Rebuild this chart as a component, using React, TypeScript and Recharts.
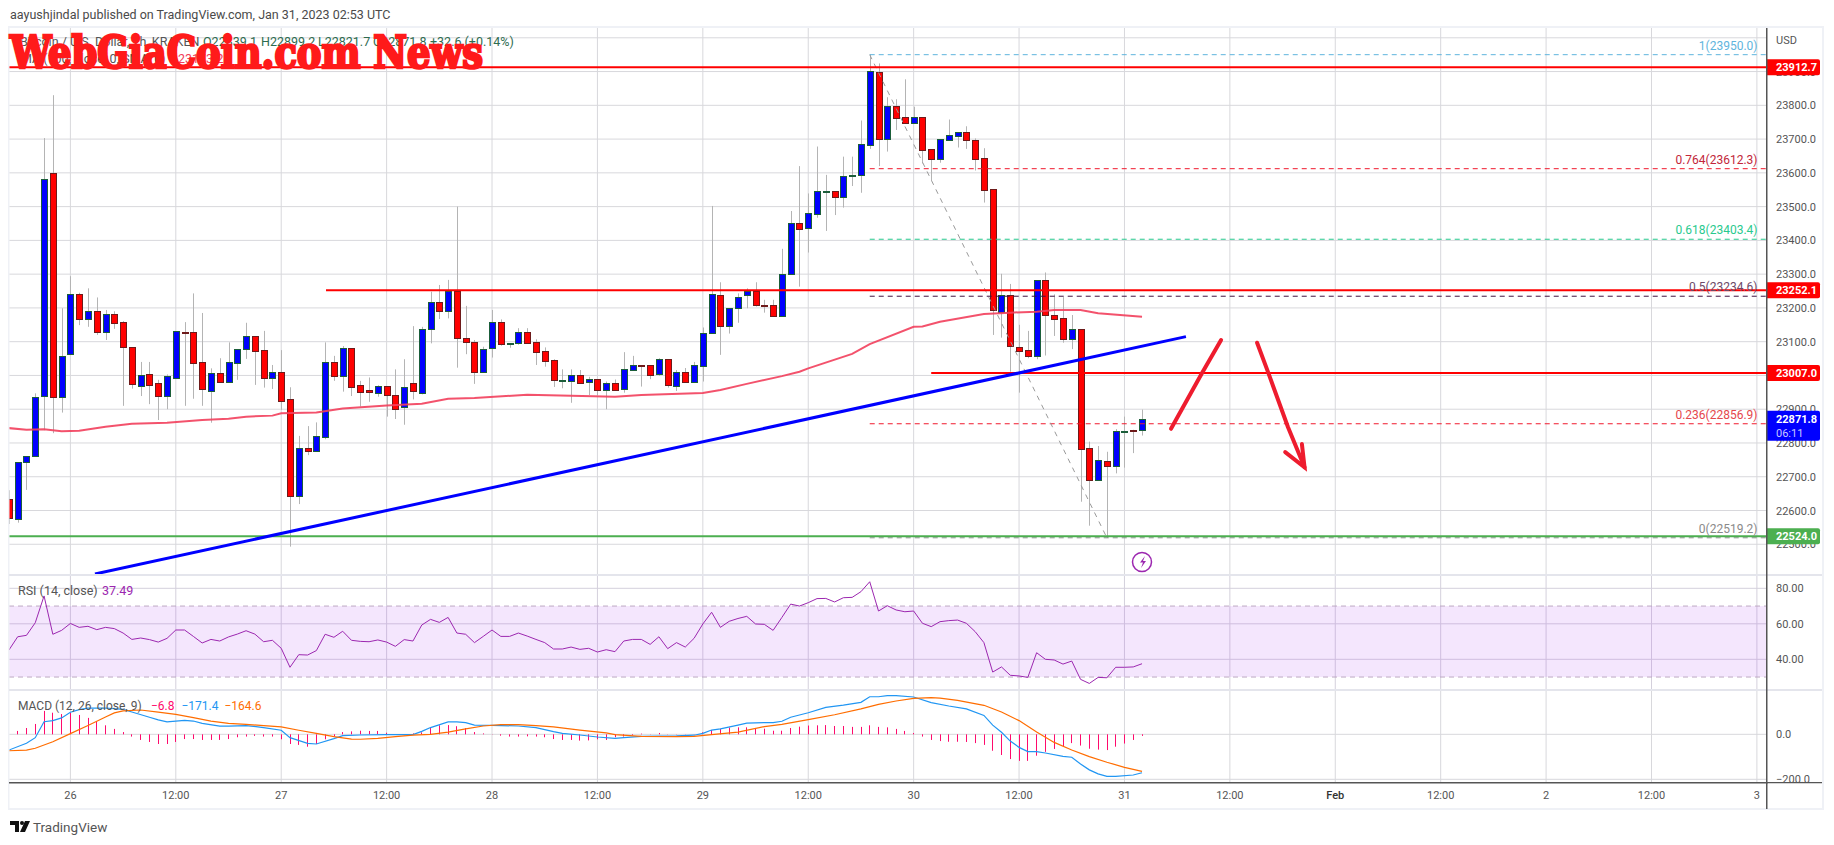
import { Bar, CartesianGrid, ComposedChart, Line, ReferenceArea, XAxis, YAxis } from 'recharts';

const FONT = 'Roboto, sans-serif';

// hourly candles, hour 0 = Jan 26 00:00
const firstHour = -7;
const opens = [22634,22574,22743,22761,22940,23599,22937,23063,23240,23166,23190,23130,23181,23157,23083,22970,23003,22977,22940,22993,23128,23128,23039,22955,23006,22982,23038,23077,23116,23074,22993,23009,22929,22644,22784,22777,22819,23039,22999,23080,22971,22956,22949,22968,22941,22908,22977,22949,23137,23217,23190,23251,23110,23098,23011,23080,23157,23094,23095,23128,23098,23073,23045,22985,22985,23000,22980,22988,22958,22977,22959,23017,23030,23030,23005,23048,22970,23009,22982,23029,23125,23237,23147,23199,23239,23250,23210,23208,23177,23300,23451,23438,23479,23545,23545,23529,23592,23595,23683,23898,23701,23797,23764,23749,23764,23670,23642,23698,23710,23720,23697,23643,23551,23189,23237,23083,23074,23059,23282,23178,23169,23109,23137,22784,22689,22746,22731,22835,22839,22839];
const highs = [22660,22743,22761,22947,23703,23830,23199,23294,23245,23258,23231,23194,23190,23161,23083,23040,23040,22987,23003,23131,23158,23243,23185,23021,23051,23098,23077,23156,23116,23132,23031,23075,22965,22821,22850,22861,23098,23058,23087,23080,22984,22994,22971,22968,23018,23048,23146,23144,23248,23268,23283,23500,23206,23105,23085,23194,23166,23095,23140,23140,23107,23083,23048,23018,23018,23016,22996,22988,22982,22988,23069,23058,23030,23030,23051,23048,23016,23022,23040,23142,23502,23276,23199,23243,23258,23276,23224,23224,23375,23487,23620,23539,23678,23594,23545,23648,23648,23755,23950,23924,23824,23818,23877,23796,23764,23670,23699,23758,23720,23738,23702,23673,23551,23301,23271,23150,23132,23282,23305,23240,23232,23179,23137,22804,22791,22774,22841,22878,22839,22899];
const lows = [22560,22564,22661,22761,22838,22829,22890,23063,23149,23144,23120,23105,23138,22910,22961,22939,22915,22868,22900,22993,22910,22931,22910,22860,22982,22982,22987,23049,22972,22964,22960,22898,22493,22619,22764,22777,22811,22984,22952,22939,22908,22922,22937,22878,22871,22854,22929,22944,23095,23167,23169,23023,23063,22975,23011,23053,23088,23082,23091,23097,23031,23026,22966,22962,22919,22979,22942,22942,22900,22958,22949,23017,22967,22989,22999,22964,22954,22982,22979,22982,23125,23061,23124,23156,23199,23204,23186,23175,23177,23300,23263,23364,23467,23428,23475,23497,23561,23541,23671,23620,23663,23727,23749,23749,23628,23577,23630,23698,23675,23671,23607,23512,23120,23112,23011,22949,23051,23048,23059,23117,23097,23078,22626,22555,22689,22519,22710,22727,22770,22822];
const closes = [22579,22743,22761,22935,23582,22937,23057,23240,23166,23190,23130,23181,23156,23083,22976,23000,22973,22940,22997,23131,23125,23038,22959,23006,22982,23039,23077,23116,23073,22993,23009,22925,22644,22784,22777,22820,23039,22999,23080,22967,22952,22952,22968,22943,22902,22967,22955,23137,23217,23190,23251,23110,23098,23009,23077,23157,23094,23095,23128,23097,23070,23044,22986,22986,23000,22979,22988,22958,22977,22958,23018,23030,23029,23002,23048,22973,23009,22982,23030,23125,23240,23147,23199,23231,23250,23210,23208,23175,23300,23451,23435,23480,23545,23547,23529,23590,23593,23684,23901,23701,23797,23763,23749,23764,23669,23642,23699,23711,23720,23698,23642,23549,23193,23237,23088,23073,23059,23282,23178,23168,23109,23137,22783,22689,22749,22733,22835,22836,22838,22872];

// moving average, read at the hours where it could be read
const maHours = [-7,-5,-3,-1,1,4,7,11,15,18,20,23,24,28,31,36,40,43,46,52,57,62,65,72,74,77,81,83,84,89,91,96,97,99,104,107,110,112,115,117,122];
const maValues = [22844,22839,22841,22835,22836,22848,22857,22860,22868,22872,22878,22881,22888,22890,22902,22911,22916,22931,22933,22943,22940,22937,22942,22948,22957,22975,22998,23011,23021,23064,23093,23144,23145,23159,23182,23186,23189,23194,23194,23184,23174];

const priceTicks = [22500,22600,22700,22800,22900,23000,23100,23200,23300,23400,23500,23600,23700,23800,23900];
const priceGrid = [...priceTicks, 24000];
const priceTags = [23912.7, 23252.1, 23007.0, 22871.8, 22524.0];
const priceTagColors = ['#ff0000', '#ff0000', '#ff0000', '#0000ff', '#4caf50'];

const fibRatios = ['1', '0.764', '0.618', '0.5', '0.236', '0'];
const fibPrices = [23950.0, 23612.3, 23403.4, 23234.6, 22856.9, 22519.2];
const fibLineColors = ['#5fb4dd', '#f0182c', '#26c98e', '#3f1240', '#f0182c', '#8a8a8a'];
const fibTextColors = ['#5fb4dd', '#c2263a', '#29c98e', '#6d4a68', '#e5464c', '#8a8a8a'];

const rsiValues = [45.2,52.7,53.5,60.6,75.7,54.1,56.3,60.2,58,58.6,56.7,58,57.3,54.8,51.2,52,51.1,49.7,51.8,56.5,56.5,52.9,49.2,51.2,50.3,52.6,54.2,56.1,54.2,49.9,50.7,46.2,35.5,42.6,42.4,44.9,54.1,52.4,55.8,50.7,50.1,49.9,50.9,49.7,47.3,51.1,50.3,59.3,62.5,60.8,63.6,54.8,54.1,49.4,52.9,56.5,52.9,52.9,54.8,53.1,51.2,49.4,45.8,45.8,46.9,45.6,46.2,44.1,45.4,44.3,50.3,51.2,51.2,48.4,52.7,46,49.4,46.9,51.8,59.9,66.5,58,61.4,63,64.2,59.9,59.7,56.3,63.6,71.1,70,71.9,74.2,74.3,72.3,74.7,74.9,78.1,83.7,67.2,70.2,67.8,66.8,67.2,60.3,58.4,61.2,61.8,62.1,60.3,55.6,49.4,32.8,35.7,31,30.6,29.8,43.7,40,39.6,37.3,39,28.7,26.4,29.8,29.6,35.5,35.5,35.7,37.5];

const histValues = [0,15,28,46,104,96,90,96,86,73,58,40,24,10,-10,-25,-34,-43,-43,-34,-21,-21,-25,-25,-25,-21,-13,-10,-7,-10,-10,-22,-43,-47,-55,-43,-22,-10,10,13,16,15,15,7,-3,-4,4,9,31,40,41,36,28,10,4,1,-6,-10,-10,-9,-10,-13,-21,-25,-25,-28,-27,-22,-25,-13,-10,-4,3,1,6,1,1,1,1,9,19,24,30,31,31,28,25,16,16,28,34,39,40,41,37,37,33,33,40,33,31,24,15,6,-10,-25,-30,-33,-33,-34,-39,-47,-73,-92,-110,-118,-118,-95,-78,-65,-52,-39,-50,-64,-68,-70,-55,-41,-25,-7];

const macdHours = [-7,-5,-4,-3,-2,-1,0,1,2,4,6,7,9,10,11,12,13,14,15,17,18,20,22,24,25,27,28,30,31,33,36,39,40,41,43,44,45,46,48,51,53,55,56,58,60,62,63,65,69,71,72,73,74,76,77,79,80,81,82,84,86,88,90,91,92,93,94,96,98,100,102,104,105,106,107,108,109,110,111,113,114,115,116,117,118,119,121,122];
const macdValues = [-70,-40,-15,56,61,73,98,110,116,117,111,99,76,64,55,59,62,59,49,36,36,39,30,18,-15,-40,-43,-19,-6,-3,-1,-1,13,30,55,55,52,41,40,37,30,12,4,-3,-12,-18,-15,-9,-7,-4,4,19,24,41,50,52,52,58,76,96,120,130,142,167,167,172,172,166,141,126,113,84,41,9,-30,-58,-77,-77,-83,-98,-102,-132,-158,-176,-187,-187,-181,-171];
const signalHours = [-7,-5,-4,-2,0,2,4,5,6,8,10,12,14,16,18,20,22,24,26,28,30,32,33,35,37,39,41,43,45,47,49,51,53,55,58,61,62,65,69,71,73,76,79,81,84,87,90,92,94,96,98,99,101,104,106,108,110,112,114,116,118,120,122];
const signalValues = [-73,-70,-62,-33,3,39,77,95,104,108,99,89,74,59,49,44,39,33,18,4,-10,-21,-22,-18,-10,-4,0,10,24,37,43,43,39,33,19,6,-1,-9,-10,-9,-1,10,34,44,65,87,113,133,148,160,163,161,151,129,99,61,10,-36,-70,-99,-124,-147,-165];

const rsiTicks = [40, 60, 80];
const macdTicks = [-200, 0];

const hourTicks = [0,12,24,36,48,60,72,84,96,108,120,132,144,156,168,180,192];
const hourLabels = ['26','12:00','27','12:00','28','12:00','29','12:00','30','12:00','31','12:00','Feb','12:00','2','12:00','3'];

// drawn levels and trend lines, as [hour, price]
const xDomain = [-6.99, 193.15];
const levelLines = [
  { from: -6.99, price: 23912.7, color: '#ff0000' },
  { from: 29.1, price: 23252.1, color: '#ff0000' },
  { from: 98, price: 23007.0, color: '#ff0000' },
  { from: -6.99, price: 22524.0, color: '#4caf50' },
];
const trendHours = [2.8, 127];
const trendPrices = [22412, 23115];
const fibDiagHours = [91, 118];
const fibDiagPrices = [23950, 22519.2];
const arrowUpHours = [125.3, 128.8, 131];
const arrowUpPrices = [22842, 23006, 23105];
const arrowDownHours = [135.1, 136.4, 138.6, 140.5];
const arrowDownPrices = [23097, 23006, 22848, 22728];
const arrowHeadHours = [138.3, 140.5, 140.2];
const arrowHeadPrices = [22773, 22728, 22797];

const toRows = (hours: number[], values: number[]) => hours.map((h, i) => ({ h, p: values[i] }));

const candleRows = opens.map((open, i) => ({
  h: firstHour + i,
  open,
  high: highs[i],
  low: lows[i],
  close: closes[i],
  range: [lows[i], highs[i]],
}));
const rsiRows = rsiValues.map((rsi, i) => ({ h: firstHour + i, rsi }));
const histRows = histValues.map((hist, i) => ({ h: firstHour + i, hist }));

const Candle = (props: any) => {
  const { x, y, width, height, payload } = props;
  const unit = height / (payload.high - payload.low);
  const yOf = (v: number) => y + (payload.high - v) * unit;
  const cx = Math.round(x + width / 2);
  const up = payload.close >= payload.open;
  const top = Math.round(yOf(Math.max(payload.open, payload.close)));
  const bottom = Math.round(yOf(Math.min(payload.open, payload.close)));
  const bodyH = Math.max(bottom - top, 1);
  return (
    <g>
      <line x1={cx + 0.5} x2={cx + 0.5} y1={y} y2={y + height} stroke="#b4b4b4" strokeWidth={1} />
      <rect
        x={cx - 2.5}
        y={top + 0.5}
        width={6}
        height={bodyH}
        fill={up ? '#0000ff' : '#ff0000'}
        stroke={up ? '#1b5e3a' : '#6e1a1a'}
        strokeWidth={1}
      />
    </g>
  );
};

// negative bars come in with a negative height
const HistBar = (props: any) => {
  const { x, y, width, height } = props;
  return (
    <rect
      x={Math.round(x + width / 2)}
      y={Math.min(y, y + height)}
      width={1}
      height={Math.abs(height)}
      fill="#ff0a6c"
    />
  );
};

const PriceTick = (props: any) => {
  const { y, payload } = props;
  const tagIndex = priceTags.indexOf(payload.value);
  if (tagIndex < 0) {
    return (
      <text x={1776} y={y + 4} fontSize={11} fontFamily={FONT} fill="#555">
        {payload.value.toFixed(1)}
      </text>
    );
  }
  const isLast = payload.value === 22871.8;
  return (
    <g>
      <path
        d={`M1767 ${y - 8}h51a2 2 0 0 1 2 2v${isLast ? 26 : 12}a2 2 0 0 1 -2 2h-51z`}
        fill={priceTagColors[tagIndex]}
      />
      <text x={1776} y={y + 4} fontSize={11} fontWeight={700} fontFamily={FONT} fill="#fff">
        {payload.value.toFixed(1)}
      </text>
      {isLast && (
        <text x={1776} y={y + 18} fontSize={11} fontFamily={FONT} fill="#c8c8ff">
          06:11
        </text>
      )}
    </g>
  );
};

const PlainTick = (props: any) => {
  const { y, payload, digits } = props;
  const text = payload.value < 0 ? `\u2212${Math.abs(payload.value).toFixed(digits)}` : payload.value.toFixed(digits);
  return (
    <text x={1776} y={y + 4} fontSize={11} fontFamily={FONT} fill="#555">
      {text}
    </text>
  );
};

const TimeTick = (props: any) => {
  const { x, payload } = props;
  const label = hourLabels[hourTicks.indexOf(payload.value)];
  return (
    <text
      x={x}
      y={799}
      transform="translate(0 -690)"
      textAnchor="middle"
      fontSize={11}
      fontFamily={FONT}
      fontWeight={label === 'Feb' ? 500 : 400}
      fill={label === 'Feb' ? '#333' : '#555'}
    >
      {label}
    </text>
  );
};

const fibLabel = (i: number) => (props: any) => {
  if (props.index !== 1) return <g key={props.index} />;
  return (
    <text
      key={props.index}
      x={1757.5}
      y={props.y - 5}
      textAnchor="end"
      fontSize={12}
      fontFamily={FONT}
      fill={fibTextColors[i]}
    >
      {`${fibRatios[i]}(${fibPrices[i].toFixed(1)})`}
    </text>
  );
};

const lineProps = { dataKey: 'p', dot: false, activeDot: false, isAnimationActive: false, legendType: 'none' as const };
const gridColor = '#d8d8dc';

export default function App() {
  return (
    <div style={{ position: 'absolute', left: 0, top: 0, width: 1834, height: 845, background: '#fff', overflow: 'hidden' }}>
      <div style={{ position: 'absolute', left: 0, top: 28 }}>
        <ComposedChart width={1834} height={547} data={candleRows} margin={{ top: 0, right: 0, bottom: 0, left: 9 }}>
          <CartesianGrid stroke={gridColor} horizontalValues={priceGrid} verticalValues={hourTicks} />
          <XAxis dataKey="h" type="number" domain={xDomain} allowDataOverflow hide />
          <YAxis
            orientation="right"
            width={67}
            domain={[22409, 24029]}
            allowDataOverflow
            ticks={[...priceTicks, ...priceTags]}
            interval={0}
            tick={<PriceTick />}
            tickLine={false}
            axisLine={false}
          />
          <Line {...lineProps} data={toRows(maHours, maValues)} stroke="#f23f5c" strokeWidth={2} strokeOpacity={0.9} />
          <Bar dataKey="range" shape={<Candle />} barSize={7} isAnimationActive={false} />
          {fibPrices.map((price, i) => (
            <Line
              key={fibRatios[i]}
              {...lineProps}
              data={[{ h: 91, p: price }, { h: xDomain[1], p: price }]}
              stroke={fibLineColors[i]}
              strokeWidth={1}
              strokeDasharray="5 4"
              label={fibLabel(i)}
            />
          ))}
          <Line {...lineProps} data={toRows(fibDiagHours, fibDiagPrices)} stroke="#9a9a9a" strokeWidth={1} strokeDasharray="5 5" />
          {levelLines.map((level) => (
            <Line
              key={level.price}
              {...lineProps}
              data={[{ h: level.from, p: level.price }, { h: xDomain[1], p: level.price }]}
              stroke={level.color}
              strokeWidth={2}
            />
          ))}
          <Line {...lineProps} data={toRows(trendHours, trendPrices)} stroke="#0000ff" strokeWidth={3} />
          <Line {...lineProps} data={toRows(arrowUpHours, arrowUpPrices)} stroke="#ee1c2e" strokeWidth={4} strokeLinecap="round" />
          <Line {...lineProps} data={toRows(arrowDownHours, arrowDownPrices)} stroke="#ee1c2e" strokeWidth={4} strokeLinecap="round" />
          <Line {...lineProps} data={toRows(arrowHeadHours, arrowHeadPrices)} stroke="#ee1c2e" strokeWidth={4} strokeLinecap="round" />
        </ComposedChart>
      </div>

      <div style={{ position: 'absolute', left: 0, top: 575 }}>
        <ComposedChart width={1834} height={115} data={rsiRows} margin={{ top: 0, right: 0, bottom: 0, left: 9 }}>
          <CartesianGrid stroke="#d4d0dc" horizontalValues={rsiTicks} verticalValues={hourTicks} />
          <ReferenceArea y1={30} y2={70} fill="#b24bf3" fillOpacity={0.14} stroke="none" />
          <XAxis dataKey="h" type="number" domain={xDomain} allowDataOverflow hide />
          <YAxis
            orientation="right"
            width={67}
            domain={[22.7, 87.5]}
            allowDataOverflow
            ticks={rsiTicks}
            interval={0}
            tick={<PlainTick digits={2} />}
            tickLine={false}
            axisLine={false}
          />
          <Line {...lineProps} data={[{ h: xDomain[0], p: 70 }, { h: xDomain[1], p: 70 }]} stroke="#bda9c4" strokeWidth={1} strokeDasharray="5 4" />
          <Line {...lineProps} data={[{ h: xDomain[0], p: 30 }, { h: xDomain[1], p: 30 }]} stroke="#bda9c4" strokeWidth={1} strokeDasharray="5 4" />
          <Line dataKey="rsi" dot={false} activeDot={false} isAnimationActive={false} stroke="#9c27b0" strokeWidth={1} />
        </ComposedChart>
      </div>

      <div style={{ position: 'absolute', left: 0, top: 690 }}>
        <ComposedChart width={1834} height={119} data={histRows} margin={{ top: 0, right: 0, bottom: 0, left: 9 }}>
          <CartesianGrid stroke={gridColor} horizontalValues={macdTicks} verticalValues={hourTicks} />
          <XAxis
            dataKey="h"
            type="number"
            domain={xDomain}
            allowDataOverflow
            ticks={hourTicks}
            interval={0}
            height={27}
            tick={<TimeTick />}
            tickLine={false}
            axisLine={false}
          />
          <YAxis
            orientation="right"
            width={67}
            domain={[-212, 197]}
            allowDataOverflow
            ticks={macdTicks}
            interval={0}
            tick={<PlainTick digits={1} />}
            tickLine={false}
            axisLine={false}
          />
          <Bar dataKey="hist" shape={<HistBar />} barSize={2} isAnimationActive={false} />
          <Line {...lineProps} data={toRows(macdHours, macdValues)} stroke="#2196f3" strokeWidth={1.2} />
          <Line {...lineProps} data={toRows(signalHours, signalValues)} stroke="#ff6d00" strokeWidth={1.2} />
        </ComposedChart>
      </div>

      {/* frame, pane separators and all the fixed text */}
      <svg width={1834} height={845} style={{ position: 'absolute', left: 0, top: 0, pointerEvents: 'none' }} fontFamily={FONT}>
        <text x={10} y={19} fontSize={12.5} fill="#4a4a4a">aayushjindal published on TradingView.com, Jan 31, 2023 02:53 UTC</text>

        <rect x={8} y={26} width={1816} height={2} fill="#eff1f6" />
        <rect x={8} y={26} width={1.5} height={784} fill="#eff1f6" />
        <rect x={1822} y={26} width={2} height={784} fill="#eff1f6" />
        <rect x={8} y={808} width={1816} height={2} fill="#eff1f6" />
        <rect x={9} y={574} width={1813} height={2} fill="#e4e5ec" />
        <rect x={9} y={689} width={1813} height={2} fill="#e4e5ec" />
        <rect x={1766} y={28} width={1.5} height={781} fill="#555" />
        <rect x={9} y={782} width={1813} height={1.5} fill="#555" />
        <rect x={1768} y={783.5} width={54} height={24} fill="#fff" />

        <text x={1776} y={44} fontSize={11} fill="#555">USD</text>

        <text y={46} fontSize={12.5} fill="#555">
          <tspan x={20}>Bitcoin / U.S. Dollar, 1h, KRAKEN</tspan>
          <tspan x={203} fill="#2e6b4f">O22839.1</tspan>
          <tspan x={261} fill="#2e6b4f">H22899.2</tspan>
          <tspan x={318} fill="#2e6b4f">L22821.7</tspan>
          <tspan x={373} fill="#2e6b4f">C22871.8</tspan>
          <tspan x={430} fill="#2e6b4f">+32.6 (+0.14%)</tspan>
        </text>
        <text y={63} fontSize={12.5} fill="#555">
          <tspan x={21}>MA (100, close, 0, SMA, 0)</tspan>
          <tspan x={178} fill="#f23f5c">23173.2</tspan>
        </text>
        <text
          x={10}
          y={68}
          fontFamily='"DejaVu Serif Condensed", "DejaVu Serif", serif'
          fontWeight={700}
          fontSize={45}
          textLength={473}
          lengthAdjust="spacingAndGlyphs"
          fill="#ff1a1a"
          stroke="#ff1a1a"
          strokeWidth={2.6}
        >
          WebGiaCoin.com News
        </text>

        <text y={595} fontSize={12.5} fill="#555">
          <tspan x={18}>RSI (14, close)</tspan>
          <tspan x={102} fill="#9c27b0">37.49</tspan>
        </text>
        <text y={710} fontSize={12} fill="#555">
          <tspan x={18}>MACD (12, 26, close, 9)</tspan>
          <tspan x={151} fill="#ff0a6c">{'\u22126.8'}</tspan>
          <tspan x={181.5} fill="#2196f3">{'\u2212171.4'}</tspan>
          <tspan x={224.5} fill="#ff6d00">{'\u2212164.6'}</tspan>
        </text>

        <circle cx={1142} cy={562} r={9.5} fill="#fff" stroke="#9c27b0" strokeWidth={1.5} />
        <path d="M1145 556l-5 6.5h3l-2 5.5 5-7h-3z" fill="#9c27b0" />

        <path d="M10 821h9v11h-4v-7h-5z M25 821h5l-5 11h-5z" fill="#111" />
        <circle cx={22} cy={823} r={2} fill="#111" />
        <text x={33} y={832} fontSize={13.5} fill="#555">TradingView</text>
      </svg>
    </div>
  );
}
